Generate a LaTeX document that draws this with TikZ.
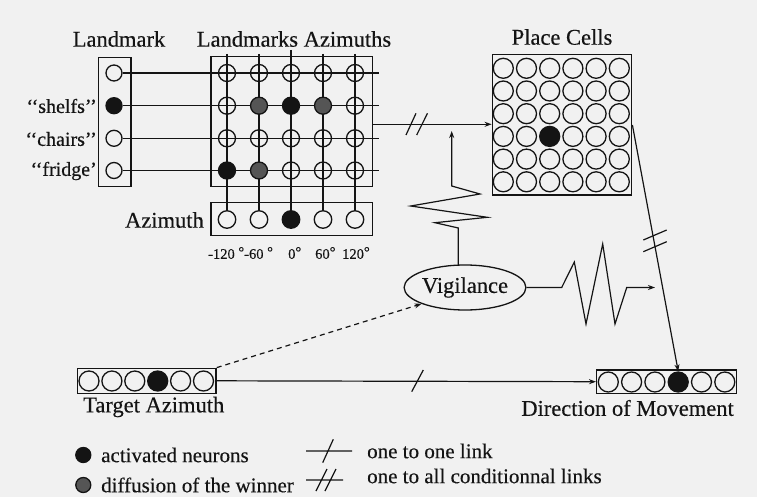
\documentclass[tikz,border=0pt]{standalone}
\usepackage{fontspec}
\setmainfont{Liberation Serif}[UprightFeatures={FakeBold=0.35}]
\usetikzlibrary{arrows.meta,shapes.geometric}
\definecolor{bg}{RGB}{241,241,241}
\definecolor{ink}{RGB}{20,20,20}
\definecolor{difcol}{RGB}{85,85,85}
\begin{document}
\begin{tikzpicture}[x=1pt,y=-1pt,
  every node/.style={text=ink},
  neu/.style={circle,draw=ink,line width=1.3pt,minimum size=#1,inner sep=0pt},
  neu/.default=17pt,
  emp/.style={},
  act/.style={fill=ink},
  dif/.style={fill=difcol},
  box/.style={draw=ink,line width=1.4pt,inner sep=0pt},
  big/.style={font=\fontsize{22.5}{26}\selectfont,inner sep=0pt},
  mid/.style={font=\fontsize{20}{24}\selectfont,inner sep=0pt},
  leg/.style={font=\fontsize{21}{25}\selectfont,inner sep=0pt},
  small/.style={font=\fontsize{14.5}{17}\selectfont,inner sep=0pt},
  link/.style={draw=ink,line width=1.2pt},
  tip/.style={-{Stealth[length=7pt,width=5pt]}}
]
\fill[bg] (0,0) rectangle (757,497);
\useasboundingbox (0,0) rectangle (757,497);

% titles
\node[big] (tlm) at (119,39) {Landmark};
\node[big] (tla) at (294,39) {Landmarks Azimuths};
\node[big] (tpc) at (562,37) {Place Cells};

% boxes
\node[box,minimum width=32.7pt,minimum height=129.4pt] (lmbox) at (114.7,122) {};
\node[box,minimum width=161.3pt,minimum height=130pt] (gbox) at (291.7,121.7) {};
\node[box,minimum width=161.3pt,minimum height=33pt] (azbox) at (291.7,219.2) {};
\node[box,minimum width=139.4pt,minimum height=140.7pt] (pcbox) at (562,124.7) {};
\node[box,minimum width=140pt,minimum height=23.3pt] (dmbox) at (666.7,381.7) {};
\node[box,minimum width=138.7pt,minimum height=25pt] (tabox) at (146.7,380.8) {};

% landmark neurons and labels
\foreach \r/\y/\s in {1/73/emp,2/105.7/act,3/138.3/emp,4/170.5/emp}
  \node[neu=16pt,fill=bg,\s] (lm\r) at (114,\y) {};
\node[mid,anchor=east] (lshelf) at (97,106) {‘‘shelfs’’};
\node[mid,anchor=east] (lchair) at (97,139) {‘‘chairs’’};
\node[mid,anchor=east] (lfridge) at (97,171) {‘‘fridge’};

% azimuth neurons
\foreach \c/\x/\s in {1/227/emp,2/259/emp,3/291/act,4/323/emp,5/355/emp}
  \node[neu=17.5pt,\s] (az\c) at (\x,219.5) {};
\node[big,anchor=east] (lazi) at (204,220) {Azimuth};
\node[small,anchor=west] (deg1) at (208,253) {-120 \raisebox{2pt}{°}};
\node[small,anchor=west] (deg2) at (244,253) {-60 \raisebox{2pt}{°}};
\node[small,anchor=west] (deg3) at (288,253) {0\raisebox{2pt}{°}};
\node[small,anchor=west] (deg4) at (315,253) {60\raisebox{2pt}{°}};
\node[small,anchor=west] (deg5) at (342,253) {120\raisebox{2pt}{°}};

% grid lines
\foreach \r/\y in {1/73,2/105.7,3/138.3,4/170.5}{
  \coordinate (he\r) at (379,\y);
  \draw[link] (lm\r.east) -- (he\r);
}
\foreach \c/\x in {1/227,2/259,4/323,5/355}{
  \coordinate (vt\c) at (\x,54);
  \draw[link] (vt\c) -- (az\c.north);
}
\coordinate (vt3) at (291,50);
\draw[link,line width=1.7pt] (vt3) -- (az3.north);

% grid neurons
\foreach \r/\y/\sa/\sb/\sc/\sd/\se in {1/73/emp/emp/emp/emp/emp,2/105.7/emp/dif/act/dif/emp,3/138.3/emp/emp/emp/emp/emp,4/170.5/act/dif/emp/emp/emp}{
  \foreach \c/\x/\s in {1/227/\sa,2/259/\sb,3/291/\sc,4/323/\sd,5/355/\se}
    \node[neu,\s] (g\r\c) at (\x,\y) {};
}

% place cells
\foreach \r in {1,...,6}{
  \foreach \c in {1,...,6}{
    \ifnum\r\c=43
      \node[neu=20pt,act] (pc\r\c) at ({503.3+23.2*(\c-1)},{68.3+22.7*(\r-1)}) {};
    \else
      \node[neu=20pt] (pc\r\c) at ({503.3+23.2*(\c-1)},{68.3+22.7*(\r-1)}) {};
    \fi
  }
}

% direction of movement and target azimuth
\foreach \c in {1,...,6}{
  \ifnum\c=4
    \node[neu=20pt,act] (dm\c) at ({608.3+23.3*(\c-1)},382) {};
    \node[neu=20pt,act] (ta\c) at ({89+22.9*(\c-1)},381) {};
  \else
    \node[neu=20pt] (dm\c) at ({608.3+23.3*(\c-1)},382) {};
    \node[neu=20pt] (ta\c) at ({89+22.9*(\c-1)},381) {};
  \fi
}
\node[big,anchor=west] (lta) at (83,407) {Target Azimuth};
\node[big,anchor=east] (ldm) at (734,408) {Direction of Movement};

% vigilance
\node[ellipse,draw=ink,line width=1.3pt,minimum width=118pt,minimum height=45pt,inner sep=0pt,font=\fontsize{22.5}{26}\selectfont] (vig) at (465,287.5) {Vigilance};

% grid -> place cells
\coordinate (gout) at (gbox.east |- 0,124.3);
\coordinate (pcin) at (pcbox.west |- 0,124.3);
\draw[link,tip] (gout) -- (pcin);
\draw[link] (406,135) -- (416,113.3) (416.7,135) -- (427.5,113.3);

% vigilance -> link (zigzag)
\coordinate (vigtop) at (458.3,265.5);
\coordinate (vigtip) at (451.7,131);
\draw[link,tip] (vigtop) -- (458.3,228) -- (435,222.7) -- (487.3,217.3) -- (410.7,206) -- (480,194) -- (451.7,186) -- (vigtip);

% vigilance -> right zigzag
\coordinate (vigend) at (655,287.5);
\draw[link,tip] (vig.east) -- (561.7,287.5) -- (574.3,262) -- (586,324) -- (602.7,244) -- (615,324) -- (626.7,287.5) -- (vigend);

% place cells -> direction of movement
\coordinate (pcout) at (pcbox.east |- 0,125);
\draw[link,tip] (pcout) -- (dm4.north);
\draw[link] (643.3,240) -- (666.7,230) (643.3,251.7) -- (666.7,241.7);

% target -> direction
\draw[link,tip] (tabox.east) -- (dmbox.west);
\draw[link] (411.7,391.7) -- (423.3,370);

% target -> vigilance (dashed)
\draw[link,tip,dash pattern=on 5pt off 4pt] (tabox.north east) -- (vig.south west);

% legend
\node[neu=15pt,act] (legact) at (83.3,455) {};
\node[neu=15pt,dif] (legdif) at (83.3,485) {};
\node[leg,anchor=west] (legt1) at (101,455) {activated neurons};
\node[leg,anchor=west] (legt2) at (101,485) {diffusion of the winner};
\coordinate (l1a) at (306,451);
\coordinate (l1b) at (352,451);
\draw[link] (l1a) -- (l1b) (322.7,462.7) -- (333.3,439.3);
\coordinate (l2a) at (306,480);
\coordinate (l2b) at (343,480);
\draw[link] (l2a) -- (l2b) (316,491) -- (327,469) (325,491) -- (336,469);
\node[leg,anchor=west] (legt3) at (367,451) {one to one link};
\node[leg,anchor=west] (legt4) at (367,476) {one to all conditionnal links};
\end{tikzpicture}
\end{document}
